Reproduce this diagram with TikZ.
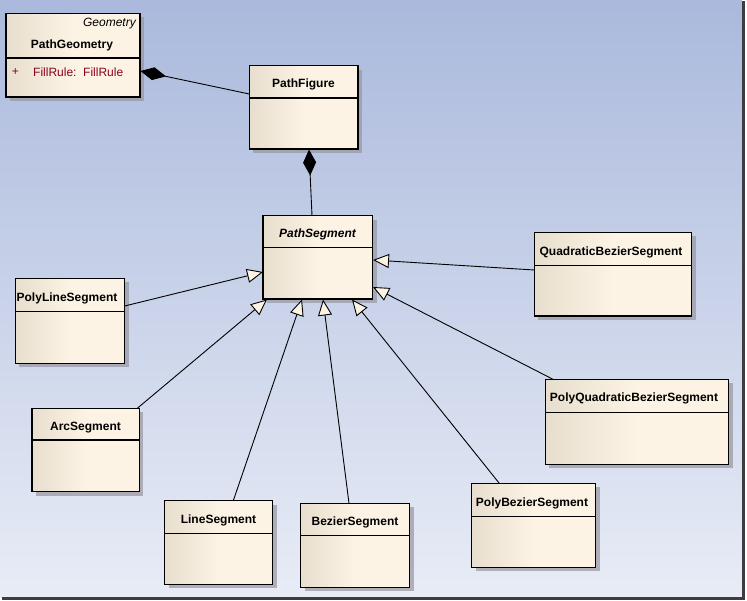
\documentclass[tikz,border=0pt]{standalone}
\usepackage{fontspec}
\setmainfont{Liberation Sans}
\usetikzlibrary{arrows.meta,calc}
\definecolor{bgtop}{RGB}{170,185,220}
\definecolor{bgbot}{RGB}{232,236,246}
\definecolor{boxL}{RGB}{232,222,206}
\definecolor{boxR}{RGB}{252,243,228}
\definecolor{attr}{RGB}{140,0,30}
\definecolor{shd}{RGB}{150,150,160}
\definecolor{framec}{RGB}{60,60,65}
\pgfdeclarehorizontalshading{boxsh}{100bp}{color(0bp)=(boxL); color(25bp)=(boxL); color(50bp)=(boxR); color(100bp)=(boxR)}
\tikzset{
  cls/.style={draw=black, line width=1.3pt, shading=boxsh, inner sep=0pt, outer sep=0pt},
  shadowbox/.style={fill=shd, opacity=0.7},
  lbl/.style={font=\fontsize{12}{14}\selectfont\bfseries, inner sep=0pt},
  ilbl/.style={font=\fontsize{12}{14}\selectfont\bfseries\itshape, inner sep=0pt},
  txt/.style={font=\fontsize{12}{14}\selectfont, inner sep=0pt},
  conn/.style={draw=black, line width=0.9pt},
  gen/.style={conn, -{Triangle[length=16pt,width=14pt,fill=boxR]}},
  comp/.style={conn, {Diamond[length=26pt,width=13pt,fill=black]}-},
}
\newcommand\umlbox[6]{%
  \fill[shadowbox] (#2+4,#3+4) rectangle (#4+4,#5+4);
  \node[cls, anchor=north west, minimum width={#4-#2}, minimum height={#5-#3}] (#1) at (#2,#3) {};
  \draw[line width=1.3pt] (#2,#6) -- (#4,#6);
}
\begin{document}
\begin{tikzpicture}[x=1pt,y=-1pt]
\useasboundingbox (0,0) rectangle (747,601);
\fill[white] (0,0) rectangle (747,601);
\shade[top color=bgtop, bottom color=bgbot] (0,0) rectangle (742,597);
\fill[framec] (742,1) rectangle (745,599.5);
\fill[framec] (2,597) rectangle (745,599.5);

% boxes
\umlbox{pg}{6}{13.5}{140}{97}{58}
\node[txt, font=\fontsize{12}{14}\selectfont\itshape, anchor=east] (pgst) at (136,24) {Geometry};
\node[lbl] (pgl) at (72,45) {PathGeometry};
\node[txt, text=attr] (pgplus) at (15.5,72) {+};
\node[txt, text=attr, anchor=west] (pgattr) at (33,72) {FillRule:\ \ FillRule};

\umlbox{pf}{249.3}{65.7}{358}{149}{98}
\node[lbl] (pfl) at (303.5,84.5) {PathFigure};

\umlbox{ps}{263}{215.7}{372.7}{299}{247.7}
\node[ilbl] (psl) at (317.5,234.5) {PathSegment};

\umlbox{qb}{534.3}{232.3}{691.7}{316}{265.7}
\node[lbl] (qbl) at (611,252) {QuadraticBezierSegment};

\umlbox{pq}{545.3}{379.3}{728.7}{464.3}{412.3}
\node[lbl] (pql) at (634,398.5) {PolyQuadraticBezierSegment};

\umlbox{pl}{15.3}{278.3}{124.7}{363.3}{311.3}
\node[lbl] (pll) at (67,298) {PolyLineSegment};

\umlbox{ar}{32}{408.3}{139.3}{491.7}{440}
\node[lbl] (arl) at (85.5,427.5) {ArcSegment};

\umlbox{ls}{164.5}{500.7}{272.5}{584.3}{533.3}
\node[lbl] (lsl) at (218.5,520) {LineSegment};

\umlbox{bz}{300.5}{503.3}{409.5}{587.3}{535.3}
\node[lbl] (bzl) at (355,522.5) {BezierSegment};

\umlbox{pb}{471.7}{483.3}{595.7}{567.3}{516.7}
\node[lbl] (pbl) at (532,503) {PolyBezierSegment};

% connector end points
\coordinate (pgA) at (140.5,71);
\coordinate (pfA) at (249.3,94);
\coordinate (pfB) at (309,149.5);
\coordinate (psA) at (312,215.7);
\coordinate (plA) at (124.7,306);   \coordinate (psPl) at (263,272);
\coordinate (qbA) at (534.3,270);   \coordinate (psQb) at (373,260);
\coordinate (pqA) at (553,379.3);   \coordinate (psPq) at (373,287);
\coordinate (arA) at (137.3,408.3); \coordinate (psAr) at (267,299.5);
\coordinate (lsA) at (233.3,500.7); \coordinate (psLs) at (302,299.5);
\coordinate (bzA) at (349,503.3);   \coordinate (psBz) at (323,299.5);
\coordinate (pbA) at (499.3,483.3); \coordinate (psPb) at (352,299.5);

% connectors
\draw[comp] (pgA) -- (pfA);
\draw[comp] (pfB) -- (psA);
\draw[gen] (plA) -- (psPl);
\draw[gen] (qbA) -- (psQb);
\draw[gen] (pqA) -- (psPq);
\draw[gen] (arA) -- (psAr);
\draw[gen] (lsA) -- (psLs);
\draw[gen] (bzA) -- (psBz);
\draw[gen] (pbA) -- (psPb);
\end{tikzpicture}
\end{document}
